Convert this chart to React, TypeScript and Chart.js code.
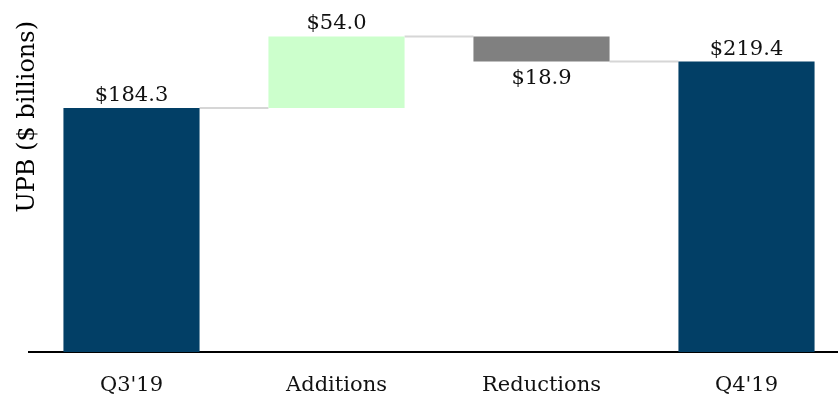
import React, { useEffect, useRef } from "react";
import { Chart, registerables } from "chart.js";

Chart.register(...registerables);

const categories = ["Q3'19", "Additions", "Reductions", "Q4'19"];
const startValue = 184.3;
const additions = 54.0;
const reductions = 18.9;
const endValue = 219.4;
const valueLabels = ["$184.3", "$54.0", "$18.9", "$219.4"];
const labelBelow = [false, false, true, false];
const barColors = ["#023f66", "#ccffcc", "#808080", "#023f66"];

const FONT = "'DejaVu Serif', serif";

export default function App() {
  const ref = useRef<HTMLCanvasElement>(null);
  useEffect(() => {
    const peak = startValue + additions;
    const ranges: [number, number][] = [
      [0, startValue],
      [startValue, peak],
      [peak - reductions, peak],
      [0, endValue],
    ];
    const levels = [startValue, peak, peak - reductions];

    const waterfallPlugin = {
      id: "waterfall",
      beforeDatasetsDraw(chart: any) {
        const ctx = chart.ctx;
        const meta = chart.getDatasetMeta(0);
        const y = chart.scales.y;
        ctx.save();
        ctx.strokeStyle = "#d6d6d6";
        ctx.lineWidth = 2;
        for (let i = 0; i < meta.data.length - 1; i++) {
          const a = meta.data[i] as any;
          const b = meta.data[i + 1] as any;
          const py = y.getPixelForValue(levels[i]);
          ctx.beginPath();
          ctx.moveTo(a.x + a.width / 2, py);
          ctx.lineTo(b.x - b.width / 2, py);
          ctx.stroke();
        }
        ctx.restore();
      },
      afterDatasetsDraw(chart: any) {
        const ctx = chart.ctx;
        const meta = chart.getDatasetMeta(0);
        ctx.save();
        ctx.font = "21px " + FONT;
        ctx.fillStyle = "#111";
        ctx.textAlign = "center";
        meta.data.forEach((el: any, i: number) => {
          const top = Math.min(el.y, el.base);
          const bottom = Math.max(el.y, el.base);
          if (labelBelow[i]) {
            ctx.textBaseline = "top";
            ctx.fillText(valueLabels[i], el.x, bottom + 7);
          } else {
            ctx.textBaseline = "alphabetic";
            ctx.fillText(valueLabels[i], el.x, top - 7);
          }
        });
        ctx.restore();
      },
    };

    const chart = new Chart(ref.current!, {
      type: "bar",
      data: {
        labels: categories,
        datasets: [
          {
            data: ranges as any,
            backgroundColor: barColors,
            borderWidth: 0,
            categoryPercentage: 1,
            barPercentage: 0.664,
            borderSkipped: false,
          },
        ],
      },
      options: {
        animation: false,
        responsive: false,
        maintainAspectRatio: false,
        layout: { padding: { top: 21, left: 0, right: 0, bottom: 0 } },
        plugins: { legend: { display: false }, tooltip: { enabled: false } },
        scales: {
          x: {
            grid: { display: false, drawTicks: false },
            border: { display: true, color: "#000", width: 2 },
            ticks: {
              padding: 21,
              color: "#111",
              font: { family: FONT, size: 21 },
            },
            afterFit: (s: any) => {
              s.height = 49;
            },
          },
          y: {
            min: 0,
            max: 250,
            grid: { display: false, drawTicks: false },
            border: { display: false },
            ticks: { display: false },
            title: {
              display: true,
              text: "UPB ($ billions)",
              align: "end",
              color: "#000",
              font: { family: FONT, size: 24 },
              padding: { top: 13, bottom: 0 },
            },
            afterFit: (s: any) => {
              s.width = 29;
            },
          },
        },
      },
      plugins: [waterfallPlugin],
    });
    return () => chart.destroy();
  }, []);

  return (
    <div
      style={{
        position: "fixed",
        left: 0,
        top: 0,
        width: 838,
        height: 401,
        overflow: "hidden",
        background: "#fff",
      }}
    >
      <canvas ref={ref} width={849} height={401} style={{ display: "block" }} />
    </div>
  );
}
